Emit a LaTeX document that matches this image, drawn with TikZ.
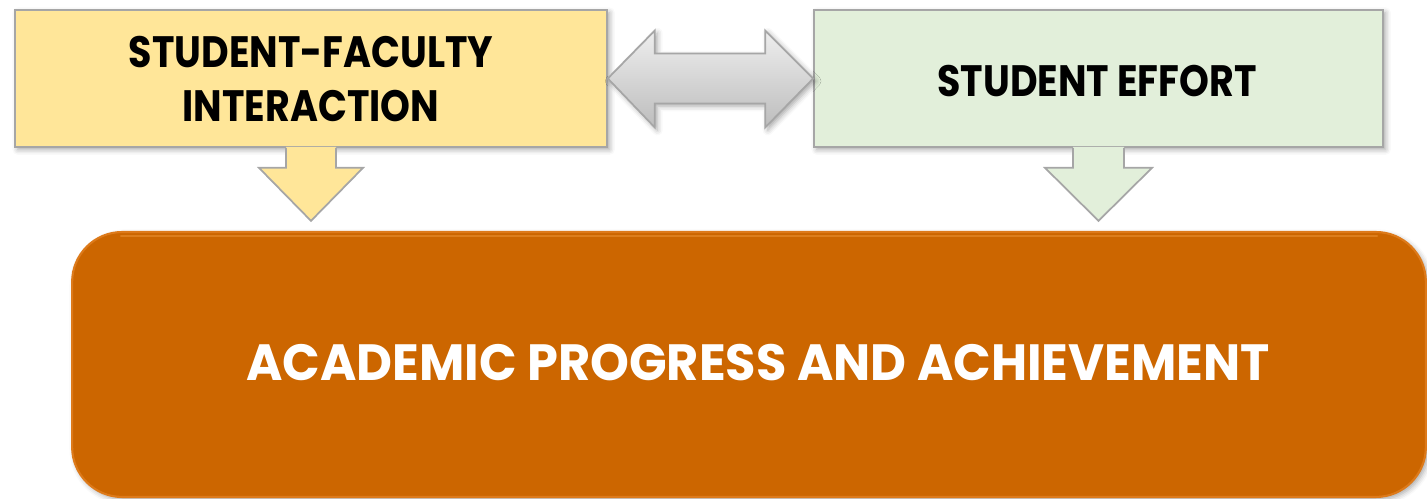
\documentclass[tikz,border=0pt]{standalone}
\usepackage{fontspec}
\setmainfont{Poppins}
\usetikzlibrary{calc,shadows.blur}
\definecolor{yelfill}{HTML}{FFE699}
\definecolor{grnfill}{HTML}{E2EFDA}
\definecolor{bordergray}{HTML}{A6A6A6}
\definecolor{orng}{HTML}{CC6600}
\definecolor{orngedge}{HTML}{DD7A1A}
\definecolor{ornglight}{HTML}{EE9638}
\definecolor{arrtop}{HTML}{EEEEEE}
\definecolor{arrbot}{HTML}{BDBDBD}
\tikzset{
  softshadow/.style={blur shadow={shadow xshift=1.5pt, shadow yshift=-1.5pt, shadow blur radius=3pt, shadow opacity=35}},
  topbox/.style={draw=bordergray, line width=1pt, minimum height=2.74cm, inner sep=0pt, softshadow},
  toptext/.style={font=\bfseries\fontsize{25}{31}\selectfont, align=center, text=black, xscale=0.865},
  bigbox/.style={fill=orng, draw=orngedge, line width=1.2pt, rounded corners=1cm, minimum width=27.08cm, minimum height=5.3cm, softshadow},
  bigtext/.style={font=\bfseries\fontsize{29}{34}\selectfont, text=white, xscale=0.97},
  blockarrow/.style={draw=bordergray, line width=1pt, line join=miter},
}
\begin{document}
\begin{tikzpicture}[x=0.02cm, y=-0.02cm]
\useasboundingbox (0,0) rectangle (1427,499);
% boxes
\node[topbox, fill=yelfill, minimum width=11.84cm] (sf) at (311,78.5) {};
\node[toptext] (sftext) at (311,79) {STUDENT-FACULTY\\INTERACTION};
\node[topbox, fill=grnfill, minimum width=11.38cm] (se) at (1098.5,78.5) {};
\node[toptext] (setext) at (1097,81) {STUDENT EFFORT};
\node[bigbox] (ap) at (749,364.5) {};
\draw[ornglight, line width=1.5pt, opacity=0.5, line cap=round] ($(ap.north west)+(50,5)$) -- ($(ap.north east)+(-50,5)$);
\node[bigtext] (aptext) at (758,363) {ACADEMIC PROGRESS AND ACHIEVEMENT};
% double arrow between top boxes
\coordinate (L) at (sf.east);
\coordinate (R) at (se.west);
\path[top color=arrtop, bottom color=arrbot, blockarrow, softshadow]
  (L) -- ($(L)+(47,-48)$) -- ($(L)+(47,-25)$) -- ($(R)+(-48,-25)$) -- ($(R)+(-48,-48)$)
  -- (R) -- ($(R)+(-48,49)$) -- ($(R)+(-48,25)$) -- ($(L)+(47,25)$) -- ($(L)+(47,49)$) -- cycle;
% down arrows
\foreach \b/\c/\w/\h in {sf/yelfill/25/52, se/grnfill/25.5/53.5}{
  \fill[\c] ($(\b.south)+(-\w,-1)$) -- ($(\b.south)+(-\w,20)$) -- ($(\b.south)+(-\h,20)$)
     -- ($(\b.south)+(0,73)$) -- ($(\b.south)+(\h,20)$) -- ($(\b.south)+(\w,20)$) -- ($(\b.south)+(\w,-1)$) -- cycle;
  \draw[blockarrow] ($(\b.south)+(-\w,0)$) -- ($(\b.south)+(-\w,20)$) -- ($(\b.south)+(-\h,20)$)
     -- ($(\b.south)+(0,73)$) -- ($(\b.south)+(\h,20)$) -- ($(\b.south)+(\w,20)$) -- ($(\b.south)+(\w,0)$);
}
\end{tikzpicture}
\end{document}
